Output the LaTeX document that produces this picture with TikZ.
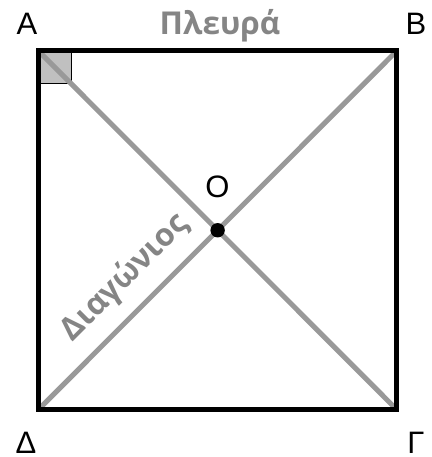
\documentclass[tikz,border=0pt]{standalone}
\usepackage{fontspec}
\setmainfont{Liberation Sans}
\newfontfamily\labfont{Open Sans}
\definecolor{diaggray}{HTML}{999999}
\definecolor{textgray}{HTML}{858585}
\definecolor{cornergray}{HTML}{C0C0C0}
\begin{document}
\begin{tikzpicture}[x=1pt,y=-1pt,
  vlabel/.style={inner sep=0pt,anchor=base,font=\fontsize{31}{31}\selectfont},
  glabel/.style={inner sep=0pt,anchor=base,text=textgray,font=\labfont\bfseries\fontsize{31.5}{31.5}\selectfont},
  edgeline/.style={line width=5pt,draw=black},
  diagline/.style={line width=5pt,draw=diaggray}]
\useasboundingbox (0,0) rectangle (431,457);
\coordinate (A) at (38.5,51);
\coordinate (B) at (396.7,51);
\coordinate (G) at (396.7,409.5);
\coordinate (D) at (38.5,409.5);
\coordinate (O) at (217.6,230.25);
\coordinate (Rc) at (71.5,83.5);
% right-angle mark
\fill[cornergray] (A) rectangle (Rc);
\draw[line width=1.5pt] (A -| Rc) -- (Rc) -- (A |- Rc);
% diagonals
\draw[diagline] (A) -- (G);
\draw[diagline] (D) -- (B);
% square
\draw[edgeline] (A) -- (B) -- (G) -- (D) -- cycle;
% centre
\fill (O) circle (7.2pt);
% labels
\node[vlabel] (lA) at (27,35) {A};
\node[vlabel] (lB) at (416,34.5) {B};
\node[vlabel] (lG) at (416,453.5) {Γ};
\node[vlabel] (lD) at (26,453.5) {Δ};
\node[vlabel] (lO) at (217.5,197.5) {O};
\node[glabel] (side) at (220,35) {Πλευρά};
\node[glabel,rotate=45] (diag) at (131,284) {Διαγώνιος};
\end{tikzpicture}
\end{document}
